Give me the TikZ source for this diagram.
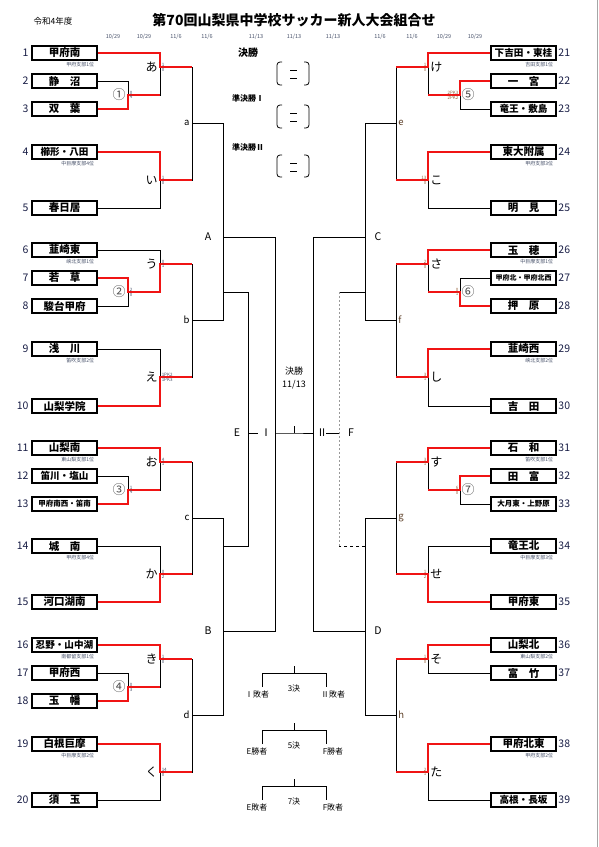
\documentclass[tikz,border=0pt]{standalone}
\usepackage{fontspec}
\setmainfont{Noto Sans CJK JP}
\usepackage{tikz}
\usetikzlibrary{positioning, calc}
\definecolor{WinRed}{RGB}{240, 20, 20}
\definecolor{NoteGray}{RGB}{70, 80, 105}
\definecolor{NumNavy}{RGB}{25, 30, 70}
\definecolor{ScoreBrown}{RGB}{150, 100, 60}

\tikzset{
	team/.style={draw, line width=1.2pt, minimum width=65pt, minimum height=14pt, inner sep=0pt, font=\fontsize{10.5}{11}\selectfont\bfseries},
	tnum/.style={inner sep=0pt, text=NumNavy, font=\fontsize{10.5}{10}\selectfont},
	note/.style={inner sep=0pt, text=NoteGray, font=\fontsize{5}{5}\selectfont},
	win/.style={draw=WinRed, line width=2.8pt},
	score/.style={inner sep=0.3pt, text=NoteGray, font=\fontsize{4.5}{4.5}\selectfont},
	rscore/.style={score, text=ScoreBrown},
	mlab/.style={inner sep=0pt, font=\fontsize{12}{12}\selectfont},
	circ/.style={inner sep=0pt, text=black!70, font=\fontsize{13}{13}\selectfont},
	rlab/.style={inner sep=0pt, font=\fontsize{9.5}{9}\selectfont},
	glab/.style={inner sep=0pt, font=\fontsize{10.5}{10}\selectfont},
	datelab/.style={inner sep=0pt, text=NoteGray, font=\fontsize{5.5}{6}\selectfont},
	ctext/.style={inner sep=0pt, font=\fontsize{8}{8}\selectfont},
}
\newcommand{\longname}[1]{{\fontsize{9.6}{10}\selectfont #1}}

\begin{document}
\begin{tikzpicture}[x=1pt, y=-1pt, line width=0.9pt]
	\fill[white] (0,0) rectangle (599,847);
	\useasboundingbox (0,0) rectangle (599,847);
	\draw[black!35, line width=0.6pt] (597.5,0) -- (597.5,847);

	% heading
	\node[inner sep=0pt, font=\fontsize{8.5}{9}\selectfont] (year) at (53,21) {令和4年度};
	\node[inner sep=0pt, font=\fontsize{14}{14}\selectfont\bfseries] (title) at (294,20) {第70回山梨県中学校サッカー新人大会組合せ};
	\foreach \x/\d [count=\i] in {113/{10/29}, 144/{10/29}, 176/{11/6}, 207/{11/6}, 256/{11/13}, 294/{11/13}, 333/{11/13}, 380/{11/6}, 412/{11/6}, 444/{10/29}, 475/{10/29}}
		\node[datelab] (d\i) at (\x,37) {\d};

	% teams
	\foreach \n/\y/\name in {1/53/甲府南, 2/81/静　沼, 3/109/双　葉, 4/152/\longname{櫛形・八田}, 5/208/春日居,
		6/250/韮崎東, 7/278/若　草, 8/306/駿台甲府, 9/349/浅　川, 10/406/山梨学院,
		11/448/山梨南, 12/476/\longname{笛川・塩山}, 13/504/{\fontsize{7.5}{8}\selectfont 甲府南西・笛南},
		14/546/城　南, 15/602/河口湖南, 16/645/\longname{忍野・山中湖}, 17/673/甲府西, 18/701/玉　幡,
		19/744/白根巨摩, 20/800/須　玉}{
		\node[team] (t\n) at (64.5,\y) {\name};
		\node[tnum, anchor=east] (n\n) at (29,\y) {\n};
	}
	\foreach \n/\y/\name in {21/53/\longname{下吉田・東桂}, 22/81/一　宮, 23/109/\longname{竜王・敷島}, 24/152/東大附属, 25/208/明　見,
		26/250/玉　穂, 27/278/{\fontsize{7}{8}\selectfont 甲府北・甲府北西}, 28/306/押　原, 29/349/韮崎西, 30/406/吉　田,
		31/448/石　和, 32/476/田　富, 33/504/{\fontsize{7.5}{8}\selectfont 大月東・上野原},
		34/546/竜王北, 35/602/甲府東, 36/645/山梨北, 37/673/富　竹,
		38/744/甲府北東, 39/800/\longname{高根・長坂}}{
		\node[team] (t\n) at (523.5,\y) {\name};
		\node[tnum, anchor=west] (n\n) at (558,\y) {\n};
	}
	\foreach \n/\txt in {1/甲府支部1位, 4/中巨摩支部4位, 6/峡北支部1位, 9/笛吹支部2位, 11/東山梨支部1位,
		14/甲府支部4位, 16/南都留支部1位, 19/中巨摩支部2位, 21/吉田支部1位, 24/甲府支部3位,
		26/中巨摩支部1位, 29/峡北支部2位, 31/笛吹支部1位, 34/中巨摩支部3位, 36/東山梨支部2位, 38/甲府支部2位}
		\node[note, anchor=north east] (s\n) at ([xshift=-3pt, yshift=-0.8pt]t\n.south east) {\txt};

	% match points
	\foreach \nm/\x/\y in {m1/128/95, m2/128/292, m3/128/490, m4/128/687,
		ra/160/67, ri/160/180, ru/160/264, re/160/377, ro/160/462, rk/160/574, rki/160/659, rku/160/772,
		qa/192/123, qb/192/320, qc/192/518, qd/192/715,
		A/223/237, Ae/223/292, B/223/631, Be/223/546, E/248/433, I/275/433,
		m5/460/95, m6/460/292, m7/460/490,
		rke/428/67, rko/428/180, rsa/428/264, rsi/428/377, rsu/428/462, rse/428/574, rso/428/659, rta/428/772,
		qe/396/123, qf/396/320, qg/396/518, qh/396/715,
		C/365/237, Ce/365/292, D/365/631, De/365/546, F/339/433, II/313/433,
		fin/294/433, eE/258/433, eF/326/433}
		\coordinate (\nm) at (\x,\y);

	% bracket lines
	\foreach \c/\p in {t2.east/m1, t3.east/m1, t1.east/ra, m1/ra, t4.east/ri, t5.east/ri, ra/qa, ri/qa,
		t7.east/m2, t8.east/m2, t6.east/ru, m2/ru, t9.east/re, t10.east/re, ru/qb, re/qb,
		t12.east/m3, t13.east/m3, t11.east/ro, m3/ro, t14.east/rk, t15.east/rk, ro/qc, rk/qc,
		t17.east/m4, t18.east/m4, t16.east/rki, m4/rki, t19.east/rku, t20.east/rku, rki/qd, rku/qd,
		qa/A, qb/A, qc/B, qd/B, A/I, B/I, Ae/E, Be/E,
		t22.west/m5, t23.west/m5, t21.west/rke, m5/rke, t24.west/rko, t25.west/rko, rke/qe, rko/qe,
		t27.west/m6, t28.west/m6, t26.west/rsa, m6/rsa, t29.west/rsi, t30.west/rsi, rsa/qf, rsi/qf,
		t32.west/m7, t33.west/m7, t31.west/rsu, m7/rsu, t34.west/rse, t35.west/rse, rsu/qg, rse/qg,
		t36.west/rso, t37.west/rso, t38.west/rta, t39.west/rta, rso/qh, rta/qh,
		qe/C, qf/C, qg/D, qh/D, C/II, D/II}
		\draw (\c) -| (\p);
	\draw (Ce) -- (Ce -| F);
	\draw[dashed] (De) -- (De -| F);
	\draw[black!40, line width=0.4pt, dash pattern=on 2pt off 2pt] (Ce -| F) -- (De -| F);
	\draw (I) -- (fin) -- (II);
	\draw (fin) -- ++(0,-7);
	\draw (E) -- (eE);
	\draw (F) -- (eF);

	% winners
	\foreach \c/\p/\g in {t3.east/m1/ra, t1.east/ra/qa, t4.east/ri/qa, t7.east/m2/ru, m2/ru/qb, t10.east/re/qb,
		t13.east/m3/ro, t11.east/ro/qc, t15.east/rk/qc, t18.east/m4/rki, t16.east/rki/qd, t19.east/rku/qd,
		t22.west/m5/rke, t21.west/rke/qe, t24.west/rko/qe, t28.west/m6/rsa, t26.west/rsa/qf, t29.west/rsi/qf,
		t32.west/m7/rsu, t31.west/rsu/qg, t35.west/rse/qg, t36.west/rso/qh, t38.west/rta/qh}
		\draw[win] (\c) -| (\p) -- (\p -| \g);

	% match labels
	\foreach \p/\t in {ra/あ, ri/い, ru/う, re/え, ro/お, rk/か, rki/き, rku/く}
		\node[mlab, anchor=east] (l\p) at ([xshift=-2pt]\p) {\t};
	\foreach \p/\t in {rke/け, rko/こ, rsa/さ, rsi/し, rsu/す, rse/せ, rso/そ, rta/た}
		\node[mlab, anchor=west] (l\p) at ([xshift=2pt]\p) {\t};
	\foreach \p/\t in {m1/①, m2/②, m3/③, m4/④}
		\node[circ] (l\p) at ([xshift=-9pt]\p) {\t};
	\foreach \p/\t in {m5/⑤, m6/⑥, m7/⑦}
		\node[circ] (l\p) at ([xshift=8pt]\p) {\t};
	\foreach \p/\t in {qa/a, qb/b, qc/c, qd/d}
		\node[rlab, anchor=east] (l\p) at ([xshift=-2pt]\p) {\t};
	\foreach \p/\t in {qe/e, qf/f, qg/g, qh/h}
		\node[rlab, text=ScoreBrown!60!black, anchor=west] (l\p) at ([xshift=2pt]\p) {\t};
	\foreach \p/\t/\dx in {A/A/-15, B/B/-15, C/C/13, D/D/13, E/E/-11, I/Ⅰ/-9, II/Ⅱ/9, F/F/12}
		\node[glab] (l\p) at ([xshift=\dx pt]\p) {\t};

	% scores
	\foreach \p/\a/\b in {m1/0/4, ra/1/0, ri/1/0, m2/2/0, ru/0/1, re/1PK2/1PK3,
		m3/1/4, ro/4/1, rk/0/2, m4/0/3, rki/1/0, rku/14/0}{
		\node[score, anchor=south west] (a\p) at ([xshift=1pt]\p) {\a};
		\node[score, anchor=north west] (b\p) at ([xshift=1pt]\p) {\b};
	}
	\foreach \p/\a/\b in {m5/2PK3/2PK2, rke/1/0, rko/13/0, m6/0/1, rsa/2/0, rsi/3/1,
		m7/6/0, rsu/3/1, rse/1/2, rso/1/0, rta/2/1}{
		\node[rscore, anchor=south east] (a\p) at ([xshift=-1pt]\p) {\a};
		\node[rscore, anchor=north east] (b\p) at ([xshift=-1pt]\p) {\b};
	}

	% final rounds
	\node[inner sep=0pt, font=\fontsize{10}{10}\selectfont\bfseries] (kessho) at (248,53) {決勝};
	\node[inner sep=0pt, font=\fontsize{8}{8}\selectfont\bfseries] (semi1) at (248,98) {準決勝Ⅰ};
	\node[inner sep=0pt, font=\fontsize{8}{8}\selectfont\bfseries] (semi2) at (248,147) {準決勝Ⅱ};
	\foreach \ya/\yb in {62/85, 105/128, 155/177}{
		\draw[line width=0.8pt, rounded corners=3pt] (282,\ya) -- (277,\ya) -- (277,\yb) -- (282,\yb);
		\draw[line width=0.8pt, rounded corners=3pt] (304,\ya) -- (309,\ya) -- (309,\yb) -- (304,\yb);
		\draw[line width=0.8pt] (290,\ya+8) -- (297,\ya+8) (290,\ya+16) -- (297,\ya+16);
	}
	\node[ctext, font=\fontsize{9}{9}\selectfont] (fin1) at (294,371) {決勝};
	\node[ctext, font=\fontsize{9}{9}\selectfont] (fin2) at (294,385) {11/13};

	\foreach \k/\y/\lt/\rt in {3/673/Ⅰ敗者/Ⅱ敗者, 5/730/E勝者/F勝者, 7/786/E敗者/F敗者}{
		\coordinate (p\k) at (294,\y);
		\draw (p\k) -- ++(0,-7);
		\draw (262,\y+14) -- (262,\y) -- (326,\y) -- (326,\y+14);
		\node[ctext] (c\k) at (294,\y+15) {{\k}決};
		\node[ctext] (lft\k) at (257,\y+21) {\lt};
		\node[ctext] (rgt\k) at (333,\y+21) {\rt};
	}
\end{tikzpicture}
\end{document}
